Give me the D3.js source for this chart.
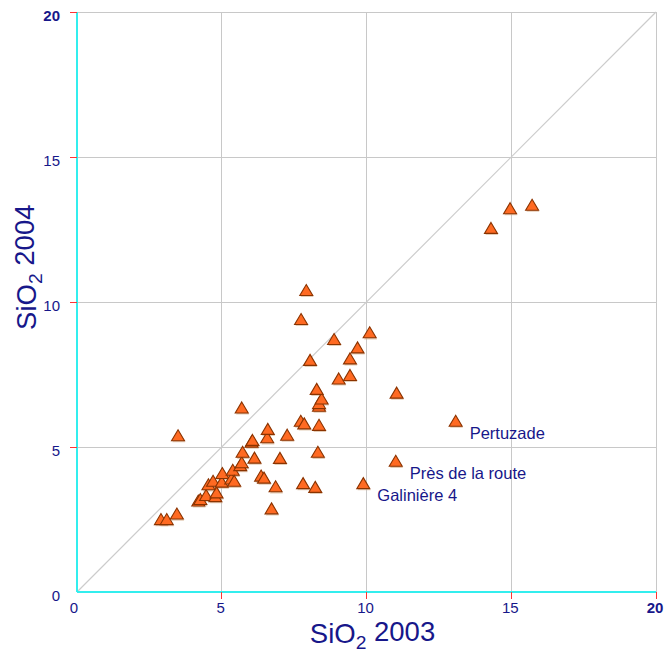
<!DOCTYPE html>
<html>
<head>
<meta charset="utf-8">
<script src="https://cdn.jsdelivr.net/npm/d3@7"></script>
<style>
  body { margin: 0; background: #fff; }
  svg { display: block; }
  text { font-family: "Liberation Sans", Arial, sans-serif; }
</style>
</head>
<body>
<svg id="chart" width="664" height="655"></svg>
<script>
// ---- data ----
const sio2_2003 = [3.49, 5.69, 2.90, 3.10, 3.45, 4.19, 4.26, 4.46, 4.78, 4.82,
  4.54, 4.70, 5.00, 5.02, 5.33, 5.38, 5.43, 5.64, 5.69, 5.72,
  6.03, 6.06, 6.13, 6.36, 6.46, 6.57, 6.59, 6.72, 6.86, 7.01,
  7.26, 7.73, 7.81, 7.85, 8.23, 8.32, 8.36, 8.36, 8.36, 8.45,
  8.28, 9.89, 11.01, 13.08, 11.04, 9.04, 9.43, 8.05, 9.43, 9.69,
  8.88, 10.11, 7.74, 7.92, 14.30, 14.96, 15.72];
const sio2_2004 = [5.37, 6.33, 2.48, 2.48, 2.67, 3.12, 3.17, 3.31, 3.27, 3.40,
  3.68, 3.80, 3.77, 4.07, 3.88, 4.18, 3.80, 4.34, 4.44, 4.80,
  5.15, 5.21, 4.60, 3.98, 3.91, 5.30, 5.59, 2.85, 3.61, 4.59,
  5.39, 5.87, 3.72, 5.78, 3.59, 4.80, 5.73, 6.39, 6.48, 6.64,
  6.97, 3.72, 4.49, 5.87, 6.84, 7.33, 7.45, 7.97, 8.02, 8.40,
  8.69, 8.92, 9.38, 10.38, 12.52, 13.20, 13.32];
const pointLabels = ["", "", "", "", "", "", "", "", "", "",
  "", "", "", "", "", "", "", "", "", "",
  "", "", "", "", "", "", "", "", "", "",
  "", "", "", "", "", "", "", "", "", "",
  "", "Galinière 4", "Près de la route", "Pertuzade", "", "", "", "", "", "",
  "", "", "", "", "", "", ""];
const tickValues = [0, 5, 10, 15, 20];
const xTitle = ["SiO", "2", " 2003"];
const yTitle = ["SiO", "2", " 2004"];

// ---- layout ----
const svg = d3.select("#chart");
const M = { left: 77, top: 12, right: 8, bottom: 63 };
const W = 664 - M.left - M.right;   // 579
const H = 655 - M.top - M.bottom;   // 580
const navy = "#17178a";

const x = d3.scaleLinear().domain([0, 20]).range([M.left, M.left + W]);
const y = d3.scaleLinear().domain([0, 20]).range([M.top + H, M.top]);

const g = svg.append("g");

// grid
g.selectAll(".gx").data(tickValues.filter(d => d > 0)).join("line")
  .attr("x1", d => x(d)).attr("x2", d => x(d))
  .attr("y1", y(0)).attr("y2", y(20))
  .attr("stroke", "#c8c8c8").attr("stroke-width", 1).attr("shape-rendering", "crispEdges");
g.selectAll(".gy").data(tickValues.filter(d => d > 0)).join("line")
  .attr("y1", d => y(d)).attr("y2", d => y(d))
  .attr("x1", x(0)).attr("x2", x(20))
  .attr("stroke", "#c8c8c8").attr("stroke-width", 1).attr("shape-rendering", "crispEdges");

// diagonal 1:1
g.append("line")
  .attr("x1", x(0)).attr("y1", y(0)).attr("x2", x(20)).attr("y2", y(20))
  .attr("stroke", "#cccccc").attr("stroke-width", 1.2);

// axes lines (cyan)
g.append("line").attr("x1", x(0)).attr("x2", x(0)).attr("y1", y(0)).attr("y2", y(20))
  .attr("stroke", "#33eeee").attr("stroke-width", 1.5).attr("shape-rendering", "crispEdges");
g.append("line").attr("x1", x(0)).attr("x2", x(20)).attr("y1", y(0)).attr("y2", y(0))
  .attr("stroke", "#33eeee").attr("stroke-width", 1.5).attr("shape-rendering", "crispEdges");

// red ticks
g.selectAll(".ty").data(tickValues.filter(d => d > 0)).join("line")
  .attr("x1", x(0) - 7).attr("x2", x(0)).attr("y1", d => y(d)).attr("y2", d => y(d))
  .attr("stroke", "#ff3333").attr("stroke-width", 1).attr("shape-rendering", "crispEdges");
g.selectAll(".tx").data(tickValues.filter(d => d > 0)).join("line")
  .attr("y1", y(0)).attr("y2", y(0) + 7).attr("x1", d => x(d)).attr("x2", d => x(d))
  .attr("stroke", "#ff3333").attr("stroke-width", 1).attr("shape-rendering", "crispEdges");

// tick labels
g.selectAll(".ly").data(tickValues).join("text")
  .attr("x", x(0) - 17).attr("y", d => y(d) + 9)
  .attr("text-anchor", "end").attr("font-size", 15).attr("fill", navy)
  .attr("font-weight", d => d === 20 ? "bold" : "normal")
  .text(d => d);
g.selectAll(".lx").data(tickValues).join("text")
  .attr("x", d => x(d) - (d === 0 ? 3 : 1)).attr("y", y(0) + 21)
  .attr("text-anchor", "middle").attr("font-size", 15).attr("fill", navy)
  .attr("font-weight", d => d === 20 ? "bold" : "normal")
  .text(d => d);

// axis titles
function title(sel, parts) {
  sel.append("tspan").text(parts[0]);
  sel.append("tspan").attr("font-size", "0.7em").attr("dy", "0.3em").text(parts[1]);
  sel.append("tspan").attr("dy", "-0.3em").text(parts[2]);
}
const xt = svg.append("text")
  .attr("x", x(10) + 6).attr("y", 643)
  .attr("text-anchor", "middle").attr("font-size", 27.5).attr("fill", navy);
title(xt, xTitle);
const yt = svg.append("text")
  .attr("transform", `translate(36, ${y(11.2)}) rotate(-90)`)
  .attr("text-anchor", "middle").attr("font-size", 27.5).attr("fill", navy);
title(yt, yTitle);

// points
const data = sio2_2003.map((v, i) => ({ x: v, y: sio2_2004[i], label: pointLabels[i] }));
const tri = "M0,-6.5L6.5,4.5L-6.5,4.5Z";
const pts = g.append("g");
pts.selectAll(".sh").data(data).join("path")
  .attr("d", tri)
  .attr("transform", d => `translate(${x(d.x) + 0.8},${y(d.y) + 1.6})`)
  .attr("fill", "#d8b898").attr("opacity", 0.7);
pts.selectAll(".pt").data(data).join("path")
  .attr("d", tri)
  .attr("transform", d => `translate(${x(d.x)},${y(d.y)})`)
  .attr("fill", "#ff6a22").attr("stroke", "#8a3300").attr("stroke-width", 1.1)
  .attr("stroke-linejoin", "miter");

// point labels
g.selectAll(".pl").data(data.filter(d => d.label)).join("text")
  .attr("x", d => x(d.x) + 14).attr("y", d => y(d.y) + 17)
  .attr("font-size", 16.5).attr("fill", navy)
  .text(d => d.label);
</script>
</body>
</html>
